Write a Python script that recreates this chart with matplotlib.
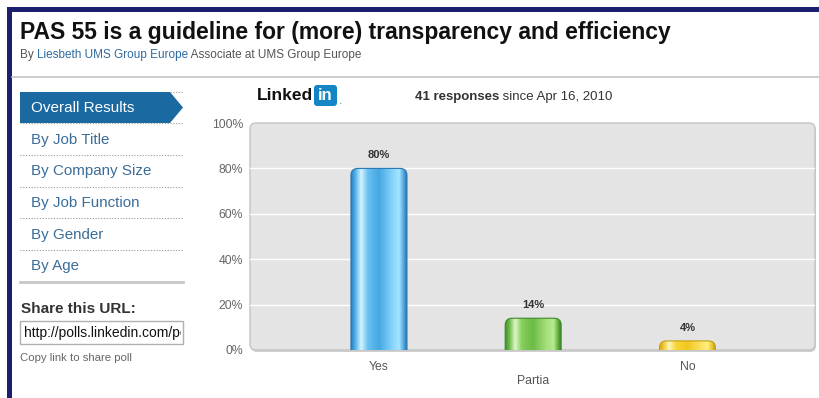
import matplotlib
matplotlib.use("Agg")
import numpy as np
import matplotlib.pyplot as plt
from matplotlib.patches import FancyBboxPatch, Polygon, Rectangle
from matplotlib.lines import Line2D
from matplotlib.colors import LinearSegmentedColormap
from matplotlib.transforms import IdentityTransform

plt.rcParams['font.family'] = ['Liberation Sans', 'DejaVu Sans']

# poll results
answers = ["Yes", "Partia", "No"]
shares = [80, 14, 4]
y_ticks = [0, 20, 40, 60, 80, 100]
menu_items = ["By Job Title", "By Company Size", "By Job Function", "By Gender", "By Age"]

W, H = 820, 398
fig = plt.figure(figsize=(W / 100, H / 100), dpi=100)
fig.patch.set_facecolor("white")
pix = IdentityTransform()


def fy(y):
    # page y (from top) -> display y
    return H - y


def ftext(x, y, s, **kw):
    return fig.text(x / W, 1 - y / H, s, **kw)


# navy frame
fig.add_artist(Rectangle((7, 0), 5, fy(7), transform=pix, color="#1c1f6e", lw=0))
fig.add_artist(Rectangle((7, fy(12)), W - 7, 5, transform=pix, color="#1c1f6e", lw=0))

# header
ftext(20, 32, "PAS 55 is a guideline for (more) transparency and efficiency",
      fontsize=16.5, fontweight="bold", color="#111111", va="center")
fig.canvas.draw()
rend = fig.canvas.get_renderer()
xpos = 20
for part, col in [("By ", "#555555"), ("Liesbeth UMS Group Europe", "#2f6aa0"),
                  (" Associate at UMS Group Europe", "#555555")]:
    t = ftext(xpos, 55, part, fontsize=8.5, color=col, va="center")
    xpos += t.get_window_extent(rend).width
fig.add_artist(Line2D([12, W], [fy(77), fy(77)], transform=pix, color="#c4c4c4", lw=1.2))

# left navigation
fig.add_artist(Polygon([(20, fy(92)), (170, fy(92)), (183, fy(107.5)), (170, fy(123)), (20, fy(123))],
                       closed=True, transform=pix, color="#1b69a1", lw=0))
ftext(31, 108, "Overall Results", fontsize=11, color="white", va="center")
for i, item in enumerate(menu_items):
    yc = 140 + i * 31.5
    ftext(31, yc, item, fontsize=10.9, color="#3a6d99", va="center")
for ys in [92, 123, 155, 187, 218, 250]:
    fig.add_artist(Line2D([20, 183], [fy(ys), fy(ys)], transform=pix, color="#9a9a9a",
                          lw=0.8, ls=(0, (1, 1.5)), zorder=0.5))
fig.add_artist(Line2D([20, 183], [fy(282), fy(282)], transform=pix, color="#c8c8c8", lw=2))
ftext(21, 309, "Share this URL:", fontsize=11, fontweight="bold", color="#333333", va="center")
fig.add_artist(Rectangle((20, fy(344)), 163, 23, transform=pix, facecolor="white",
                         edgecolor="#b0b0b0", lw=1))
url = ftext(24, 333, "http://polls.linkedin.com/poll", fontsize=10, color="#111111",
            va="center", clip_on=True)
url.set_clip_path(Rectangle((21, fy(343)), 160, 21, transform=pix))
ftext(20, 358, "Copy link to share poll", fontsize=8.2, color="#666666", va="center")

# logo and response count
ftext(257, 95, "Linked", fontsize=12.5, fontweight="bold", color="#111111", va="center")
fig.add_artist(FancyBboxPatch((314, fy(106)), 23, 21, boxstyle="round,pad=0,rounding_size=3",
                              transform=pix, color="#1486c6", lw=0))
ftext(325.5, 96, "in", fontsize=12, fontweight="bold", color="white", va="center", ha="center")
ftext(339, 101, ".", fontsize=9, color="#777777", va="center")
t = ftext(415, 97, "41 responses", fontsize=9.5, fontweight="bold", color="#333333", va="center")
ftext(415 + t.get_window_extent(rend).width, 97, " since Apr 16, 2010", fontsize=9.5,
      color="#333333", va="center")

# chart panel
L, R, T, B = 250, 815, 123, 350
fig.add_artist(FancyBboxPatch((L + 1, fy(B) - 2), R - L, B - T, boxstyle="round,pad=0,rounding_size=6",
                              transform=pix, facecolor="#cfcfcf", edgecolor="none", zorder=-2))
fig.add_artist(FancyBboxPatch((L, fy(B)), R - L, B - T, boxstyle="round,pad=0,rounding_size=6",
                              transform=pix, facecolor="#e4e4e4", edgecolor="#c4c4c4", lw=1, zorder=-1))

ax = fig.add_axes([L / W, 1 - B / H, (R - L) / W, (B - T) / H])
ax.set_facecolor("none")
for s in ax.spines.values():
    s.set_visible(False)
ax.set_xlim(-0.836, 2.827)
ax.set_ylim(0, 100)
ax.set_yticks(y_ticks, [f"{v}%" for v in y_ticks])
ax.tick_params(axis="y", length=0, pad=5, labelsize=8.8, labelcolor="#666666")
x = np.arange(len(answers))
ax.set_xticks(x, ["Yes", "\nPartia", "No"])
ax.tick_params(axis="x", length=0, pad=8, labelsize=8.8, labelcolor="#555555")
for g in y_ticks[1:-1]:
    ax.axhline(g, color="white", lw=1, zorder=1)

maps = [
    [(0, '#2b7fc2'), (0.08, '#55b4ea'), (0.18, '#d6f3ff'), (0.3, '#6ac2f0'), (0.5, '#45a7e3'),
     (0.72, '#80d1f8'), (0.86, '#a6e5ff'), (0.95, '#4a9fdb'), (1, '#2a76b6')],
    [(0, '#3f8f2a'), (0.08, '#6fbd4a'), (0.18, '#def7c6'), (0.3, '#86cf5e'), (0.5, '#6abb44'),
     (0.74, '#a6df7a'), (0.87, '#b8ea90'), (0.96, '#58a636'), (1, '#3c8a28')],
    [(0, '#d2a20e'), (0.08, '#efc92e'), (0.18, '#fff7bf'), (0.3, '#f8d738'), (0.5, '#f2c71f'),
     (0.74, '#fde05f'), (0.87, '#fff07e'), (0.96, '#e6bd2e'), (1, '#c89e10')],
]
edges = ["#2a74b0", "#3d8a2a", "#c89e10"]

bars = ax.bar(x, shares, width=0.363, color="none", lw=0)
grad = np.linspace(0, 1, 256).reshape(1, -1)
r = 7 / 154.25
asp = (7 / 2.27) / r
for bar, val, cm, ec in zip(bars, shares, maps, edges):
    x0, w = bar.get_x(), bar.get_width()
    shape = FancyBboxPatch((x0, -6), w, val + 6, boxstyle=f"round,pad=0,rounding_size={r}",
                           mutation_aspect=asp, transform=ax.transData, facecolor="none",
                           edgecolor=ec, lw=0.8, zorder=3)
    ax.add_patch(shape)
    im = ax.imshow(grad, extent=(x0, x0 + w, 0, val), aspect="auto", zorder=2,
                   cmap=LinearSegmentedColormap.from_list("bar", cm))
    im.set_clip_path(shape)
    ax.annotate(f"{val}%", (bar.get_x() + w / 2, val), xytext=(0, 9.5), textcoords="offset points",
                ha="center", va="center", fontsize=8, fontweight="bold", color="#333333")

fig.savefig("out.png", dpi=100)
